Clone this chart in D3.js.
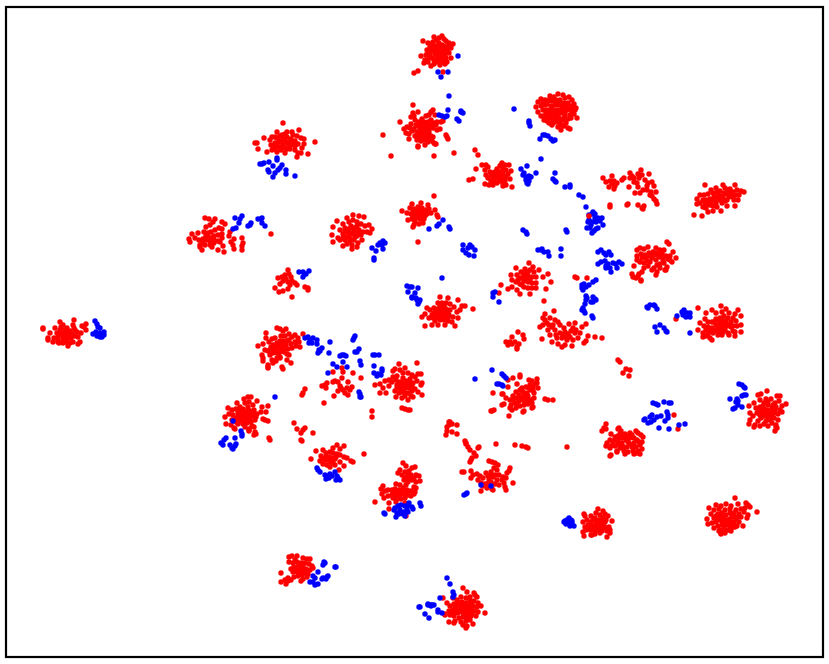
<!DOCTYPE html>
<html>
<head>
<meta charset="utf-8">
<script src="https://cdnjs.cloudflare.com/ajax/libs/d3/7.8.5/d3.min.js"></script>
<style>
    html, body { margin: 0; padding: 0; background: #fff; }
    svg { display: block; }
</style>
</head>
<body>
<div id="data-viz"></div>
<script>
// Embedding coordinates, one list per group of dots
const redTop = [[423,41],[428,43],[421,56],[414,73],[418,71],[443,72],[427,50],[430,47],[433,42],[436,40],[439,38],[442,36],[444,39],[446,41],[449,43],[453,44],[451,48],[447,50],[449,53],[445,55],[451,58],[447,62],[443,59],[445,64],[440,65],[437,62],[434,64],[431,66],[428,62],[425,60],[426,55],[430,54],[433,50],[436,46],[439,43],[442,45],[438,49],[441,52],[435,54],[432,58],[437,57],[440,56],[443,48],[429,58],[434,37],[446,46],[424,63],[431,44],[436,52],[439,60],[432,46],[435,49],[438,46],[441,48],[444,51],[447,47],[428,53],[431,51],[434,60],[437,54],[440,59],[443,62],[446,58],[442,54],[449,47]]
const blueTop = [[458,56],[438,72],[448,72],[441,77]]

const redUpperRight = [[538,102],[536,107],[538,112],[541,116],[544,120],[547,118],[549,123],[552,125],[555,122],[558,127],[561,130],[564,126],[568,128],[570,129],[577,118],[575,110],[576,108],[574,104],[572,100],[569,97],[565,98],[563,95],[558,94],[554,97],[550,96],[545,100],[541,99],[545,105],[548,101],[552,101],[556,100],[560,100],[564,103],[568,103],[571,106],[572,112],[570,115],[567,110],[563,108],[559,105],[555,105],[551,106],[547,110],[543,110],[549,114],[553,111],[557,110],[561,113],[565,115],[568,119],[563,120],[559,118],[555,116],[551,118],[546,114],[553,120],[558,122],[574,114],[566,123],[561,125],[550,99],[547,104],[543,103],[541,106],[544,116],[549,111],[552,108],[556,103],[560,103],[562,106],[566,106],[569,109],[565,112],[561,110],[558,114],[554,113],[550,116],[547,121],[556,119],[560,121],[564,118],[571,118],[573,108],[553,123]]
const blueUpperRight = [[514,109],[529,121],[529,123],[530,126],[540,139],[543,135],[545,135],[548,136],[551,139],[553,141],[555,140]]

const redUpperMid = [[413,105],[400,122],[413,113],[418,112],[411,117],[414,116],[426,116],[431,112],[433,110],[429,115],[435,115],[443,121],[441,122],[440,129],[437,130],[404,129],[407,127],[410,128],[406,133],[409,134],[412,131],[409,139],[415,136],[417,132],[420,128],[423,125],[426,128],[416,125],[419,122],[422,119],[428,122],[431,125],[434,123],[437,122],[423,132],[426,135],[429,132],[420,136],[417,140],[421,141],[418,146],[418,147],[424,140],[428,138],[431,136],[433,137],[434,143],[432,141],[435,144],[436,144],[446,135],[447,137],[448,139],[436,125],[383,135],[391,156],[434,156],[454,153],[475,150],[478,155],[434,196],[418,126],[421,124],[424,122],[427,125],[430,128],[433,128],[420,132],[423,129],[426,131],[418,136],[421,138],[424,136],[427,135],[414,129],[411,124],[415,120],[431,120],[425,145],[428,142]]
const blueUpperMid = [[449,96],[448,110],[439,115],[442,116],[445,117],[447,116],[461,112],[463,113],[461,111],[457,119],[459,121]]

const redCentreTop = [[469,180],[473,179],[476,169],[482,165],[486,165],[488,167],[485,170],[486,175],[488,178],[485,184],[489,185],[493,185],[491,181],[494,178],[497,175],[500,172],[503,169],[502,163],[505,165],[509,165],[511,171],[510,179],[512,187],[506,185],[503,183],[500,181],[497,183],[503,178],[506,177],[499,176],[495,172],[492,173],[490,172],[500,166],[503,186],[501,165],[508,174],[497,169],[506,170],[491,176],[494,175],[497,178],[500,176],[503,174],[505,181],[494,181],[498,173],[501,179]]
const blueCentreTop = [[521,169],[527,166],[524,173],[523,175],[526,177],[529,176],[531,177],[526,180],[527,183],[529,181],[528,184],[536,173],[541,159],[555,173],[553,179],[555,181],[556,182],[565,187],[570,187],[570,185],[579,195],[583,197]]

const redRightTop = [[603,178],[612,176],[610,181],[612,184],[615,186],[614,189],[609,187],[606,182],[614,181],[617,183],[622,180],[624,178],[630,173],[632,176],[630,178],[634,178],[638,174],[641,170],[639,178],[642,175],[649,174],[637,183],[634,182],[645,180],[648,183],[647,186],[652,182],[654,186],[656,192],[651,192],[647,190],[640,193],[638,187],[643,190],[635,193],[629,187],[650,195],[652,196],[654,199],[656,201],[657,204],[610,205],[610,207],[627,205],[628,204],[638,205],[642,208],[644,206],[643,209]]
const blueRightTop = [[586,207],[593,212],[595,214],[592,214],[595,218],[589,220],[592,222],[598,218],[602,218],[603,225],[598,228],[596,229],[594,231],[592,233],[587,228],[590,228],[589,215],[591,225],[588,222],[596,222],[600,221],[566,230],[567,232]]

const redFarRight = [[694,215],[702,216],[705,185],[697,199],[697,204],[700,195],[704,195],[708,194],[711,190],[713,193],[716,188],[723,185],[720,191],[725,188],[735,185],[732,192],[730,189],[737,190],[741,191],[744,192],[739,195],[738,200],[733,197],[730,194],[727,194],[723,197],[720,200],[716,203],[713,206],[710,205],[706,208],[703,207],[700,203],[706,200],[710,199],[714,197],[718,195],[722,203],[727,200],[734,200],[735,206],[717,207],[721,211],[713,211],[708,212],[706,205],[727,206],[712,200],[716,199],[720,196],[724,193],[728,190],[733,192],[736,195],[729,197],[708,203],[711,202],[725,201],[717,192],[705,203],[703,200]]

const redRightMid = [[667,242],[669,244],[637,250],[640,248],[644,249],[648,247],[656,248],[660,250],[664,250],[673,252],[676,258],[672,262],[670,260],[666,256],[662,253],[657,253],[653,252],[649,253],[645,255],[641,254],[637,256],[637,260],[640,262],[644,263],[648,266],[652,258],[656,260],[660,264],[664,263],[667,267],[665,270],[657,272],[656,275],[666,270],[654,268],[634,266],[632,274],[633,277],[636,278],[639,274],[642,272],[638,276],[641,280],[641,281],[644,268],[650,262],[659,257],[670,256],[652,270],[575,277],[577,278],[587,278],[650,256],[654,255],[658,255],[662,257],[668,259],[646,258],[642,258],[663,260],[657,265],[660,268],[647,261]]
const blueRightMid = [[598,252],[601,250],[604,253],[606,255],[609,252],[611,255],[598,264],[601,262],[605,261],[606,266],[610,268],[611,272],[613,263],[616,264],[619,262],[617,268],[622,264],[606,268],[608,264],[582,285],[582,288],[584,284],[586,287],[589,285],[593,282],[596,280],[583,290],[587,298],[586,296],[586,300],[585,304],[583,308],[584,311],[582,310],[585,313],[593,297],[595,299],[596,300],[593,302],[591,302],[592,316],[593,318]]

const redRightLow = [[698,308],[706,313],[721,306],[712,310],[716,313],[722,312],[726,309],[729,313],[738,310],[741,316],[735,314],[733,318],[731,322],[728,318],[724,316],[720,318],[716,319],[712,322],[708,322],[705,319],[700,323],[704,326],[698,330],[708,327],[712,328],[716,325],[720,323],[724,322],[727,326],[731,327],[736,321],[741,325],[737,326],[741,332],[735,332],[733,331],[735,336],[728,333],[725,330],[721,329],[717,331],[713,333],[708,334],[703,333],[706,336],[703,337],[710,338],[712,340],[718,335],[722,335],[729,335],[676,319],[714,322],[718,320],[722,319],[726,321],[729,325],[725,326],[721,326],[718,328],[714,330],[710,331],[706,330],[723,332],[733,326],[719,333]]
const blueRightLow = [[647,307],[650,305],[654,305],[657,309],[655,306],[648,308],[655,327],[660,325],[657,332],[664,328],[666,331],[667,332],[677,316],[682,312],[683,315],[685,314],[688,316],[690,317],[686,317],[684,310],[690,313],[687,313],[690,333]]

const redEdge = [[767,391],[758,395],[761,394],[766,399],[777,396],[780,396],[779,401],[786,404],[782,406],[775,403],[771,399],[764,403],[760,400],[754,403],[749,406],[756,408],[760,407],[764,409],[768,405],[772,408],[776,407],[780,410],[782,412],[778,414],[774,413],[770,415],[766,414],[762,412],[757,413],[753,416],[750,413],[750,420],[749,424],[755,425],[754,427],[758,421],[761,418],[766,421],[770,420],[774,418],[778,420],[776,425],[777,428],[775,431],[776,427],[768,426],[764,424],[760,426],[772,423],[767,410],[770,411],[773,405],[768,402],[763,406],[759,410],[764,416],[768,418],[772,416],[760,415],[775,410]]
const blueEdge = [[739,384],[742,385],[744,387],[745,388],[730,399],[744,395],[746,395],[742,396],[736,402],[738,401],[737,399],[738,405],[733,409],[735,408],[742,407]]

const redLowRight = [[606,424],[604,428],[602,431],[606,429],[611,434],[610,440],[607,443],[606,446],[610,448],[611,446],[613,442],[615,437],[619,428],[618,429],[621,431],[625,434],[618,436],[622,438],[626,436],[630,433],[636,431],[638,433],[641,435],[643,437],[642,442],[640,445],[642,449],[638,451],[640,454],[637,453],[633,451],[634,454],[628,452],[624,451],[620,448],[622,443],[626,440],[630,438],[634,438],[630,444],[634,443],[637,440],[627,447],[618,444],[615,446],[617,451],[611,455],[610,456],[617,452],[625,454],[674,415],[678,429],[615,440],[618,440],[620,434],[624,436],[628,436],[632,435],[628,442],[632,447],[636,447],[639,442],[624,447],[620,445]]
const blueLowRight = [[653,403],[656,404],[658,405],[664,402],[669,403],[671,403],[645,419],[644,420],[650,417],[652,415],[654,420],[651,422],[648,423],[657,417],[661,416],[667,412],[668,415],[665,421],[668,418],[659,428],[669,429],[679,425],[685,424]]

const redCentreLow = [[520,375],[520,377],[529,380],[532,381],[537,379],[537,383],[538,388],[535,384],[533,387],[530,385],[526,387],[522,388],[517,384],[513,378],[508,380],[508,387],[493,393],[502,394],[503,394],[506,398],[504,404],[502,405],[510,400],[513,396],[516,392],[519,395],[523,392],[527,393],[531,390],[534,393],[534,398],[531,400],[527,398],[523,400],[519,401],[515,403],[511,405],[510,408],[512,410],[516,408],[520,406],[524,405],[528,404],[532,403],[532,408],[524,411],[523,412],[492,411],[491,411],[494,410],[509,416],[545,399],[548,400],[553,400],[533,407],[520,390],[524,396],[528,396],[521,398],[517,398],[513,400],[517,405],[525,402],[529,401],[533,390],[529,388]]
const blueCentreLow = [[492,370],[475,379],[502,374],[504,376],[506,378],[497,384],[499,384],[502,385],[503,386]]

const redScatter = [[446,435],[447,431],[447,427],[449,422],[450,422],[452,424],[449,425],[457,425],[452,432],[457,434],[465,441],[466,443],[466,444],[468,447],[470,450],[479,447],[478,448],[474,453],[476,456],[472,458],[471,460],[470,462],[496,444],[515,445],[522,446],[526,447],[528,448],[567,447],[618,360],[620,362],[626,369],[630,370],[623,373],[629,376]]

const redLowMid = [[489,461],[492,462],[495,463],[498,465],[464,472],[462,472],[471,471],[473,475],[471,478],[477,474],[480,476],[483,478],[486,473],[491,472],[494,468],[497,470],[499,475],[503,477],[506,478],[510,468],[509,471],[507,473],[497,480],[493,477],[489,480],[485,484],[481,483],[478,480],[483,486],[487,488],[491,486],[495,484],[499,485],[493,490],[492,489],[504,483],[505,487],[506,490],[513,483],[481,491],[488,476],[491,476],[495,475],[487,484],[491,482],[502,480]]
const blueLowMid = [[481,485],[491,486],[464,495],[466,494],[467,493]]

const redBottomRight = [[598,509],[603,511],[584,514],[585,516],[591,516],[596,513],[600,515],[605,514],[608,516],[612,521],[606,520],[603,518],[599,520],[595,518],[591,522],[587,520],[583,522],[585,527],[588,525],[592,526],[596,524],[600,525],[604,526],[609,527],[610,530],[610,533],[607,531],[602,531],[598,530],[594,530],[590,530],[586,530],[583,532],[584,536],[591,535],[595,534],[600,533],[607,537],[592,535],[593,520],[597,522],[601,522],[605,522],[590,526],[594,527],[598,527],[602,528],[606,528]]
const blueBottomRight = [[565,521],[564,522],[567,520],[569,518],[571,520],[572,523],[568,523],[570,526],[574,526],[572,521],[566,524]]

const redCorner = [[735,498],[709,508],[716,505],[721,506],[726,504],[731,506],[738,504],[746,503],[748,505],[750,507],[757,512],[745,508],[741,509],[736,510],[730,509],[725,510],[719,509],[714,510],[711,514],[707,519],[708,524],[714,518],[718,514],[722,513],[726,515],[730,513],[734,513],[739,514],[744,512],[748,515],[747,518],[741,517],[736,519],[732,517],[728,520],[724,518],[720,520],[716,522],[712,523],[714,528],[718,526],[722,525],[726,525],[730,523],[734,522],[739,522],[737,526],[743,526],[733,527],[728,530],[724,529],[720,530],[721,533],[719,531],[731,531],[725,533],[721,534],[730,529],[735,527],[722,517],[726,522],[730,519],[734,516],[738,517],[718,518],[722,521],[716,516],[730,526],[734,525],[724,524]]

const redBottom = [[463,588],[467,592],[474,593],[475,595],[477,597],[470,597],[466,598],[461,597],[457,600],[453,598],[443,598],[447,603],[450,606],[454,604],[458,604],[462,602],[466,603],[470,601],[474,601],[478,603],[481,606],[477,607],[473,606],[469,606],[465,608],[461,607],[457,609],[453,610],[449,611],[445,614],[445,615],[450,615],[454,616],[458,613],[462,612],[466,613],[470,611],[474,611],[478,612],[476,616],[471,616],[467,618],[463,617],[459,618],[455,621],[449,622],[454,623],[461,622],[466,621],[470,620],[473,624],[467,626],[463,625],[466,628],[485,613],[459,603],[463,605],[467,606],[471,604],[455,607],[459,611],[463,610],[467,610],[471,608],[452,613],[456,612],[464,615],[468,614],[472,614]]
const blueBottom = [[447,578],[450,584],[453,592],[454,595],[453,597],[440,598],[434,605],[431,605],[428,605],[431,606],[419,607],[420,607],[428,604],[432,605],[438,610],[438,612],[442,613],[425,614],[429,618]]

const redBottomLeft = [[297,556],[289,557],[292,556],[289,562],[303,558],[307,559],[310,559],[293,563],[297,562],[301,563],[305,563],[309,564],[312,566],[313,568],[310,570],[306,569],[302,567],[298,567],[294,567],[291,569],[293,572],[297,572],[301,571],[305,573],[308,574],[302,575],[298,576],[303,579],[301,581],[294,577],[281,573],[281,582],[285,580],[288,578],[286,584],[288,581],[291,580],[307,577],[295,569],[299,569],[303,569],[303,565],[299,564],[300,573],[295,560]]
const blueBottomLeft = [[324,562],[325,563],[323,565],[335,567],[336,567],[318,572],[326,579],[328,576],[322,579],[313,576],[315,578],[310,582],[313,582],[315,585],[318,584],[323,578],[327,577]]

const redLowCentre = [[403,463],[406,466],[400,470],[398,473],[412,468],[415,467],[409,471],[405,472],[402,475],[407,477],[411,475],[416,475],[419,476],[420,481],[416,482],[412,480],[408,482],[404,480],[416,488],[414,487],[396,484],[400,485],[383,486],[381,489],[385,491],[382,494],[384,498],[388,496],[392,490],[395,489],[399,490],[403,488],[407,490],[411,491],[408,495],[404,494],[400,495],[396,493],[392,495],[388,490],[393,498],[397,499],[401,499],[405,498],[411,496],[414,494],[389,503],[389,509],[396,502],[375,502],[405,503],[415,492],[406,485],[406,516],[395,495],[399,493],[402,491],[406,493],[393,493],[398,497],[408,474],[410,479],[414,478],[405,478]]
const blueLowCentre = [[384,513],[385,514],[395,508],[394,510],[398,506],[401,505],[405,506],[407,510],[404,512],[400,510],[397,513],[396,517],[399,514],[405,516],[403,514],[408,512],[409,503],[408,506],[412,507],[413,509],[420,503],[421,506]]

const redLowLeft = [[316,451],[311,459],[323,450],[337,445],[344,446],[340,449],[333,448],[330,452],[326,453],[321,456],[322,458],[325,460],[329,457],[333,453],[337,454],[340,455],[344,457],[347,458],[351,461],[353,462],[364,454],[335,459],[331,462],[327,465],[323,464],[330,467],[335,465],[340,462],[344,466],[339,470],[320,461],[328,460],[332,458],[336,457],[326,457],[333,463]]
const blueLowLeft = [[317,468],[318,470],[320,472],[325,475],[328,476],[330,474],[329,478],[326,479],[332,476],[335,472],[337,476],[338,478],[340,480],[336,480]]

const redLeftLow = [[248,397],[251,397],[244,399],[257,401],[237,403],[228,408],[232,410],[236,409],[240,407],[245,403],[249,402],[253,405],[248,407],[243,409],[262,407],[268,406],[261,412],[266,412],[225,417],[229,414],[233,415],[238,413],[242,415],[246,413],[250,411],[254,410],[257,414],[256,417],[252,416],[248,418],[244,419],[240,420],[236,418],[232,420],[226,424],[231,425],[234,428],[238,424],[243,424],[247,423],[251,422],[255,420],[263,419],[265,420],[268,421],[252,426],[254,427],[249,429],[245,427],[235,429],[249,431],[255,432],[254,435],[256,434],[249,430],[269,438],[270,440],[302,395],[303,393],[305,389],[324,403],[294,423],[297,429],[301,433],[303,430],[305,428],[313,433],[301,440],[302,441],[240,411],[244,412],[248,410],[252,413],[246,416],[242,418],[238,417],[248,415],[250,419],[246,421],[242,421],[236,422],[254,414]]
const blueLeftLow = [[233,421],[241,431],[242,434],[242,436],[226,438],[224,440],[221,443],[223,445],[235,438],[230,445],[232,448],[233,449],[235,446],[236,444],[275,397]]

const redMid = [[399,364],[417,363],[405,368],[393,371],[395,369],[400,370],[403,373],[408,373],[412,375],[418,374],[421,374],[422,383],[421,385],[422,395],[418,392],[415,389],[412,391],[408,393],[405,396],[402,392],[399,388],[395,391],[375,385],[380,384],[383,388],[386,393],[380,393],[389,386],[392,382],[396,380],[399,383],[403,378],[406,381],[410,379],[413,383],[417,381],[415,377],[408,386],[405,388],[401,385],[397,376],[393,377],[389,380],[385,381],[411,396],[396,397],[408,400],[413,397],[402,398],[399,393],[402,408],[405,409],[408,410],[410,410],[372,411],[372,417],[397,385],[400,382],[403,383],[406,384],[401,388],[404,392],[397,388],[409,388],[412,386],[409,382]]
const blueMid = [[373,355],[375,355],[379,355],[374,366],[374,373],[377,376],[381,375],[382,371],[382,369],[378,374]]

const redMidLeft = [[353,373],[361,378],[342,368],[343,372],[333,372],[333,382],[335,381],[338,382],[342,378],[322,386],[325,385],[327,383],[326,388],[348,382],[341,388],[343,390],[347,388],[338,391],[345,393],[348,395],[334,396],[340,386],[352,387],[350,390]]
const blueMidLeft = [[354,338],[355,336],[353,340],[330,342],[359,349],[355,352],[357,352],[329,353],[340,356],[342,355],[344,355],[346,356],[343,362],[347,367],[333,364],[337,367],[328,373],[360,361],[361,365],[359,392],[360,394],[361,397],[360,397],[305,338],[308,337],[310,340],[312,343],[309,343],[313,338],[317,340],[317,344],[322,348],[320,351],[318,353],[319,350]]

const redLeftMid = [[277,328],[280,329],[283,331],[286,329],[266,333],[258,346],[263,344],[269,342],[272,339],[275,338],[277,343],[281,336],[285,336],[289,334],[292,337],[295,335],[298,338],[303,334],[299,342],[295,342],[291,344],[287,341],[283,341],[280,347],[275,348],[271,347],[268,351],[265,350],[262,355],[263,358],[263,361],[270,355],[273,353],[277,353],[281,351],[284,352],[288,349],[292,348],[287,354],[289,355],[291,363],[287,360],[280,357],[277,358],[280,358],[272,360],[268,365],[268,368],[268,367],[273,363],[282,367],[283,369],[276,361],[296,346],[300,347],[266,338],[273,345],[276,345],[279,344],[283,345],[286,345],[289,340],[280,341],[277,348],[274,351],[279,353],[284,348],[270,350]]

const redFarLeft = [[43,328],[43,329],[48,338],[48,340],[50,333],[53,342],[55,328],[60,322],[57,333],[58,342],[59,343],[63,325],[65,330],[60,330],[62,335],[66,335],[70,331],[74,328],[74,320],[73,325],[63,339],[67,339],[71,338],[75,336],[78,337],[68,346],[63,343],[70,343],[80,342],[78,344],[81,333],[82,326],[86,324],[86,330],[84,327],[77,332],[73,342],[54,338],[58,337],[60,334],[64,333],[68,332],[72,334],[64,337],[68,336],[72,335],[75,330],[61,327],[67,328],[58,340],[66,342]]
const blueFarLeft = [[95,321],[97,324],[98,327],[100,328],[104,332],[93,334],[96,332],[100,333],[97,336],[100,337],[102,337],[104,335]]

const redSmallLeft = [[288,270],[278,278],[282,277],[285,275],[289,274],[291,277],[286,279],[283,281],[288,282],[292,281],[295,283],[297,285],[280,284],[275,288],[279,292],[283,291],[288,289],[292,297],[305,287],[308,288],[308,290],[290,285]]
const blueSmallLeft = [[299,272],[303,272],[306,274],[309,271],[303,277],[305,274]]

const redUpperLeft = [[283,123],[264,138],[257,143],[255,143],[258,149],[267,152],[270,140],[272,137],[277,132],[282,135],[287,132],[293,135],[299,130],[301,138],[304,139],[304,144],[315,142],[308,154],[301,153],[297,157],[298,153],[295,150],[290,149],[285,153],[271,145],[275,143],[279,141],[283,139],[287,137],[291,139],[295,141],[298,144],[295,146],[291,145],[287,143],[283,145],[279,147],[275,149],[272,150],[277,152],[281,150],[285,148],[289,147],[275,137],[280,136],[285,134],[292,132],[297,136],[302,148],[277,138],[281,142],[285,141],[289,142],[293,143],[277,145],[282,148],[287,149],[273,146]]
const blueUpperLeft = [[260,164],[262,164],[264,163],[269,162],[277,160],[277,158],[268,170],[269,172],[273,166],[282,165],[280,168],[278,170],[275,173],[273,177],[286,170],[286,174],[295,176]]

const redLeft = [[205,218],[209,219],[213,222],[215,219],[210,225],[206,227],[222,222],[225,224],[222,229],[219,228],[215,230],[211,232],[208,233],[204,232],[206,236],[192,234],[189,239],[190,242],[198,233],[195,238],[199,240],[203,239],[207,240],[211,238],[214,236],[218,235],[222,234],[222,238],[218,241],[214,243],[210,245],[205,245],[200,245],[200,247],[202,250],[212,247],[218,250],[224,252],[223,246],[220,242],[230,232],[229,236],[231,242],[233,245],[234,249],[242,238],[243,243],[242,246],[242,250],[234,239],[271,234],[208,237],[210,241],[214,240],[203,243]]
const blueLeft = [[242,216],[240,219],[235,218],[239,223],[233,229],[236,228],[248,226],[250,225],[251,223],[258,219],[261,219],[262,218],[262,223],[265,226]]

const redInner = [[353,215],[359,216],[364,217],[347,218],[337,221],[343,224],[333,227],[332,235],[333,242],[338,238],[343,246],[347,244],[352,249],[357,247],[362,240],[370,233],[372,229],[367,232],[369,225],[340,230],[345,228],[349,222],[353,220],[357,222],[361,224],[365,226],[343,234],[347,232],[351,226],[355,228],[359,230],[363,232],[349,236],[353,234],[357,236],[361,235],[345,240],[350,241],[354,240],[358,243],[352,245],[340,240],[345,231],[349,229],[353,228],[357,226],[350,233],[354,231],[358,233],[346,237],[350,239],[355,237],[343,238]]
const blueInner = [[383,241],[380,243],[378,245],[383,249],[372,248],[376,251],[374,258],[374,260],[382,245],[385,243]]

const redInnerTop = [[402,211],[412,204],[421,203],[428,205],[429,209],[435,210],[437,215],[438,217],[407,213],[408,220],[413,227],[414,225],[423,223],[418,242],[410,208],[414,209],[418,207],[422,208],[426,210],[411,214],[415,213],[419,213],[423,214],[427,214],[431,213],[412,219],[416,218],[420,219],[424,219],[415,222],[419,224],[413,212],[416,210],[420,210],[424,212],[417,216],[421,216],[425,216],[413,216]]
const blueInnerTop = [[443,220],[449,227],[450,229],[439,224],[437,226],[429,229],[463,245],[463,250],[468,248],[470,245],[475,250],[474,256],[469,255],[466,253],[472,247],[523,230],[526,232],[527,234],[538,250],[541,250],[542,249],[544,252],[548,252],[549,256],[561,249],[561,256],[442,278]]

const redCentre = [[440,297],[448,298],[458,300],[465,306],[473,309],[462,306],[422,317],[427,308],[425,314],[425,326],[432,325],[455,326],[445,325],[458,318],[457,312],[460,310],[438,325],[430,310],[434,308],[438,303],[442,303],[446,303],[450,304],[454,307],[434,313],[438,309],[442,309],[446,309],[450,310],[429,318],[433,318],[437,315],[441,315],[445,315],[449,315],[453,317],[435,321],[440,320],[444,320],[448,321],[452,322],[499,293],[436,312],[440,312],[444,312],[448,312],[440,306],[444,306],[436,318],[440,318],[444,318],[448,318],[432,315]]
const blueCentre = [[407,286],[410,287],[412,287],[418,288],[415,293],[408,292],[412,297],[412,298],[416,298],[417,300],[419,302],[418,304],[420,300],[493,293],[495,292],[493,297],[499,302]]

const redCentreRight = [[529,263],[516,268],[511,275],[539,270],[533,267],[548,274],[543,277],[551,282],[546,289],[501,285],[508,289],[520,294],[530,294],[536,288],[544,301],[512,287],[517,290],[517,275],[521,272],[525,269],[530,270],[534,272],[520,278],[524,275],[528,276],[532,277],[536,277],[516,282],[520,284],[524,281],[528,282],[532,283],[536,283],[512,280],[524,287],[528,288],[532,288],[522,278],[526,279],[530,279],[526,272],[522,285],[518,280],[528,272]]

const redSmallMid = [[518,332],[523,335],[524,339],[512,337],[506,342],[510,342],[512,344],[515,342],[519,344],[517,349],[517,347],[508,345]]

const redBand = [[554,311],[545,314],[543,318],[540,327],[542,339],[550,318],[555,320],[558,322],[543,325],[547,323],[552,327],[548,330],[555,330],[560,325],[569,324],[575,323],[586,324],[582,327],[573,328],[565,332],[560,333],[568,334],[575,333],[580,333],[550,335],[552,342],[558,344],[562,347],[565,345],[572,346],[567,340],[573,340],[562,338],[578,338],[584,343],[586,341],[588,336],[595,337],[602,338],[545,320],[549,325],[553,325],[556,335],[563,335],[566,337],[570,337],[576,330],[571,331],[564,328],[557,338]]

// These few sit on top of the blue dots in the original
const redOverBlue = [[589,216]]

const redSeries = [redTop, redUpperRight, redUpperMid, redCentreTop, redRightTop, redFarRight, redRightMid, redRightLow, redEdge, redLowRight, redCentreLow, redScatter, redLowMid, redBottomRight, redCorner, redBottom, redBottomLeft, redLowCentre, redLowLeft, redLeftLow, redMid, redMidLeft, redLeftMid, redFarLeft, redSmallLeft, redUpperLeft, redLeft, redInner, redInnerTop, redCentre, redCentreRight, redSmallMid, redBand].flat()
const blueSeries = [blueTop, blueUpperRight, blueUpperMid, blueCentreTop, blueRightTop, blueRightMid, blueRightLow, blueEdge, blueLowRight, blueCentreLow, blueLowMid, blueBottomRight, blueBottom, blueBottomLeft, blueLowCentre, blueLowLeft, blueLeftLow, blueMid, blueMidLeft, blueFarLeft, blueSmallLeft, blueUpperLeft, blueLeft, blueInner, blueInnerTop, blueCentre].flat()

function drawChart() {
    const dimensions = {
        width: 829,
        height: 664,
        margin: { top: 7, right: 6, bottom: 7, left: 6 },
    }
    dimensions.boundedWidth = dimensions.width - dimensions.margin.left - dimensions.margin.right
    dimensions.boundedHeight = dimensions.height - dimensions.margin.top - dimensions.margin.bottom

    const wrapper = d3.select("#data-viz")
        .append("svg")
        .attr("width", dimensions.width)
        .attr("height", dimensions.height)

    const chart = wrapper.append("g")
        .attr("transform", `translate(${dimensions.margin.left}, ${dimensions.margin.top})`)

    const xScale = d3.scaleLinear()
        .domain([6, 823])
        .range([0, dimensions.boundedWidth])
    const yScale = d3.scaleLinear()
        .domain([7, 657])
        .range([0, dimensions.boundedHeight])

    const drawDots = (points, color, name) => chart.selectAll("." + name)
        .data(points)
        .join("circle")
        .attr("class", name)
        .attr("cx", d => xScale(d[0]))
        .attr("cy", d => yScale(d[1]))
        .attr("r", 2.7)
        .attr("fill", color)

    drawDots(redSeries, "#ff0000", "red-dot")
    drawDots(blueSeries, "#0000ff", "blue-dot")
    drawDots(redOverBlue, "#ff0000", "red-over")

    chart.append("rect")
        .attr("width", dimensions.boundedWidth)
        .attr("height", dimensions.boundedHeight)
        .attr("fill", "none")
        .attr("stroke", "#000")
        .attr("stroke-width", 2.2)
}

drawChart()
</script>
</body>
</html>
